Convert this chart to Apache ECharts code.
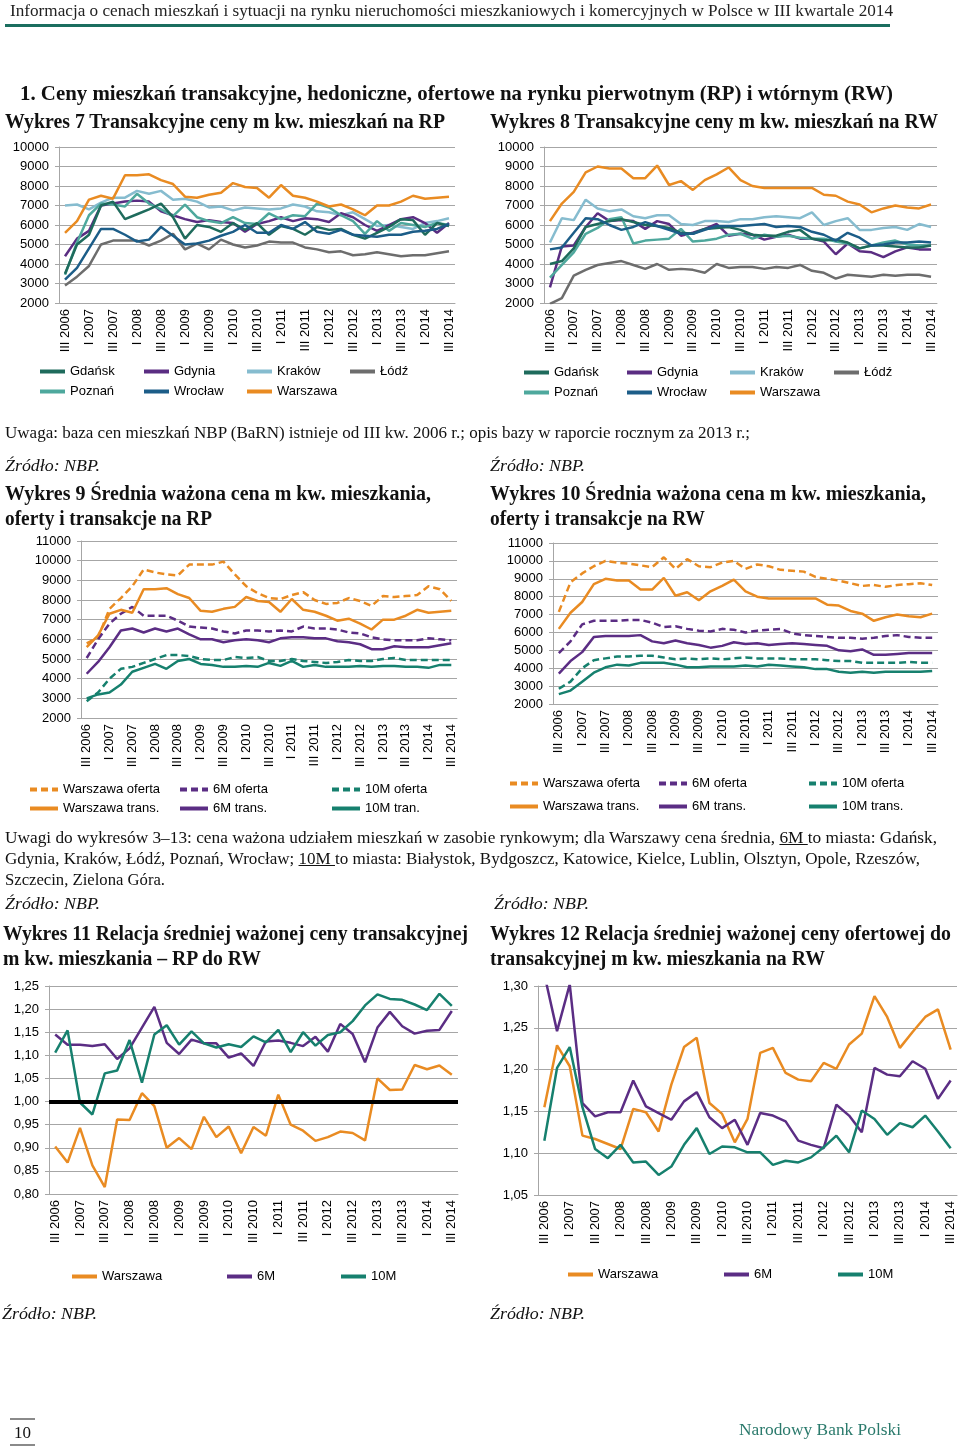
<!DOCTYPE html>
<html><head><meta charset="utf-8">
<script src="https://cdn.jsdelivr.net/npm/echarts@6.0.0/dist/echarts.min.js"></script>
<style>
html,body{margin:0;padding:0;background:#fff;}
#page{position:relative;width:960px;height:1446px;overflow:hidden;background:#fff;}
#chart{position:absolute;left:0;top:0;width:960px;height:1446px;}
.t{position:absolute;white-space:nowrap;font-family:"Liberation Serif","DejaVu Serif",serif;color:#111;transform-origin:0 50%;line-height:1;}
.rule{position:absolute;}
</style></head>
<body><div id="page"><div id="chart"></div></div>
<script>
// ---------- categories ----------
const quarters = ['III 2006','IV 2006','I 2007','II 2007','III 2007','IV 2007','I 2008','II 2008','III 2008','IV 2008',
 'I 2009','II 2009','III 2009','IV 2009','I 2010','II 2010','III 2010','IV 2010','I 2011','II 2011','III 2011','IV 2011',
 'I 2012','II 2012','III 2012','IV 2012','I 2013','II 2013','III 2013','IV 2013','I 2014','II 2014','III 2014'];

// ---------- Wykres 7: RP transaction prices ----------
const rp_gdansk  = [3500,5000,5500,7000,7200,6300,6550,6800,7100,6400,5300,6000,5900,5650,6100,5750,6100,5500,5950,5800,5500,5900,5750,5800,5500,5300,5600,5900,6300,6250,5500,6100,5950];
const rp_gdynia  = [4400,5300,5700,7000,7100,7200,7250,7200,6700,6500,6300,6150,6250,6150,6100,5650,6050,6200,6400,6200,6350,6300,6150,6600,6400,6000,5700,6000,6300,6400,6100,5600,6100];
const rp_krakow  = [7000,7050,6800,7150,7400,7400,7750,7600,7750,7300,7350,7200,6900,6950,6750,6900,6850,6800,6850,7050,6950,6700,6650,6500,6650,6300,5950,6000,5900,5800,6100,6200,6350];
const rp_lodz    = [2900,3350,3900,5000,5200,5200,5200,4950,5200,5550,4750,5050,4750,5250,5000,4850,4950,5150,5100,5100,4850,4750,4600,4650,4450,4500,4600,4500,4400,4450,4450,4550,4650];
const rp_poznan  = [3450,5100,6500,7100,7050,6950,7600,7100,6800,6450,7050,6400,6200,6100,6400,6100,6050,6600,6300,6500,6450,7100,6900,6500,6200,5550,6200,5700,6100,6000,5900,6100,6000];
const rp_wroclaw = [3200,3800,4800,5800,5800,5500,5150,5250,5900,5450,5000,5050,5200,5450,5650,6000,5600,5600,6000,5800,6150,5650,5550,5750,5500,5450,5400,5500,5500,5650,5700,5800,6050];
const rp_warszawa= [5600,6200,7300,7500,7350,8550,8550,8600,8300,8100,7450,7400,7550,7650,8150,7950,7900,7400,8050,7500,7400,7200,6950,7050,6800,6500,7000,7000,7200,7500,7350,7400,7450];

// ---------- Wykres 8: RW transaction prices ----------
const rw_gdansk  = [4000,4150,4800,5900,6050,6200,6300,6150,6000,5950,5850,5600,5550,5800,5850,5900,5750,5500,5450,5450,5650,5750,5300,5200,5250,5100,4800,4950,4950,4900,4850,4850,4950];
const rw_gdynia  = [2800,4900,4950,5900,6600,6200,6250,6200,5800,6200,6050,5450,5600,5800,6050,5450,5550,5500,5250,5400,5500,5300,5300,5150,4500,5050,4650,4600,4350,4650,4850,4750,4750];
const rw_krakow  = [5100,6350,6250,7300,6850,6700,6800,6450,6350,6500,6500,6050,6000,6200,6200,6150,6300,6300,6400,6450,6400,6350,6650,6000,6200,6350,5750,5750,5850,5900,5750,6050,5900];
const rw_lodz    = [1950,2250,3400,3700,3950,4050,4150,3950,3750,4000,3700,3750,3700,3550,4000,3800,3850,3850,3750,3850,3800,3950,3650,3550,3250,3450,3400,3350,3450,3400,3450,3450,3350];
const rw_poznan  = [3300,3950,4600,5550,5850,6300,6400,5050,5200,5250,5300,5800,5150,5200,5300,5500,5550,5300,5500,5400,5450,5350,5300,5300,5150,5050,4800,4950,5100,5200,5000,4950,4950];
const rw_wroclaw = [4750,4850,5600,6350,6300,6000,5750,5900,6150,5950,5750,5550,5550,5750,5950,5950,5950,6000,6050,5900,5950,5900,5650,5500,5200,5600,5350,4950,5000,5100,5100,5150,5100];
const rw_warszawa= [6200,7100,7700,8700,9000,8900,8900,8400,8400,9050,8050,8250,7800,8300,8600,8950,8300,8000,7900,7900,7900,7900,7900,7550,7500,7200,7050,6650,6850,7000,6900,6850,7050];

// ---------- Wykres 9: RP offer / transaction ----------
const rp_off_waw = [5800,6100,7550,8100,8700,9550,9400,9300,9250,9800,9800,9800,9950,9300,8700,8350,8100,8050,8250,8400,8000,7800,7850,8100,7950,7700,8200,8150,8200,8250,8700,8550,7950];
const rp_off_6m  = [5050,6000,6800,7300,7650,7200,7200,7200,6950,6650,6600,6550,6400,6300,6450,6450,6400,6450,6400,6650,6550,6550,6500,6350,6300,6100,6000,5950,5950,5950,6050,6000,5950];
const rp_off_10m = [2850,3300,4000,4500,4600,4800,5000,5200,5200,5150,5000,4950,4950,5100,5050,5100,4900,4900,5000,4900,4850,4800,4850,4950,4900,4900,5000,5050,4950,4950,4950,4950,4950];
const rp_tr_waw  = rp_warszawa;
const rp_tr_6m   = [4250,4850,5600,6450,6550,6350,6550,6400,6550,6250,6000,6000,5850,5950,6000,5950,5850,6050,6100,6100,6050,6050,5900,5850,5750,5500,5500,5650,5600,5600,5600,5700,5800];
const rp_tr_10m  = [3000,3200,3300,3700,4350,4550,4750,4500,4900,5000,4750,4700,4600,4600,4650,4600,4800,4650,4900,4600,4700,4600,4600,4600,4650,4600,4650,4650,4600,4600,4550,4700,4700];

// ---------- Wykres 10: RW offer / transaction ----------
const rw_off_waw = [7150,8800,9300,9700,10000,9900,9850,9750,9650,10200,9550,10100,9700,9650,9900,10000,9550,9800,9700,9500,9450,9400,9100,9000,8900,8750,8600,8650,8550,8650,8700,8750,8650];
const rw_off_6m  = [4850,5500,6450,6650,6650,6650,6700,6700,6550,6300,6350,6200,6100,6050,6200,6150,6000,6100,6150,6200,5950,5850,5800,5750,5700,5700,5650,5700,5800,5850,5750,5700,5700];
const rw_off_10m = [2850,3250,4000,4450,4550,4650,4650,4700,4700,4600,4500,4550,4500,4550,4500,4550,4600,4550,4550,4550,4500,4500,4500,4450,4400,4400,4300,4300,4300,4300,4350,4300,4300];
const rw_tr_waw  = rw_warszawa;
const rw_tr_6m   = [3700,4400,4900,5750,5800,5800,5800,5850,5500,5400,5550,5400,5300,5150,5250,5450,5350,5400,5300,5350,5400,5350,5300,5250,5000,4950,5050,4750,4750,4800,4850,4850,4850];
const rw_tr_10m  = [2550,2750,3250,3750,4050,4200,4150,4300,4300,4300,4200,4050,4050,4100,4100,4100,4150,4100,4200,4150,4100,4050,3950,3950,3800,3750,3800,3750,3800,3800,3800,3800,3850];

// ---------- Wykres 11: RP / RW ratio ----------
const rel_rp_waw = [0.903,0.868,0.943,0.862,0.815,0.961,0.960,1.018,0.990,0.900,0.921,0.897,0.967,0.923,0.946,0.888,0.945,0.926,1.015,0.950,0.937,0.915,0.923,0.935,0.932,0.916,1.050,1.025,1.026,1.079,1.070,1.078,1.058];
const rel_rp_6m  = [1.145,1.123,1.123,1.120,1.124,1.092,1.115,1.160,1.205,1.127,1.103,1.134,1.126,1.126,1.095,1.104,1.077,1.130,1.132,1.127,1.120,1.140,1.108,1.168,1.146,1.085,1.160,1.194,1.163,1.147,1.153,1.155,1.196];
const rel_rp_10m = [1.106,1.154,0.998,0.972,1.061,1.067,1.133,1.041,1.145,1.165,1.123,1.152,1.126,1.117,1.124,1.118,1.141,1.128,1.155,1.107,1.150,1.121,1.144,1.150,1.174,1.208,1.232,1.222,1.220,1.210,1.198,1.233,1.207];
const parityLevel = 1.0;

// ---------- Wykres 12: offer / transaction ratio RW ----------
const rel_rw_waw = [1.155,1.229,1.204,1.121,1.117,1.111,1.105,1.153,1.149,1.126,1.182,1.227,1.238,1.160,1.147,1.113,1.141,1.220,1.226,1.196,1.188,1.186,1.208,1.201,1.230,1.243,1.288,1.263,1.226,1.245,1.263,1.272,1.224];
const rel_rw_6m  = [1.314,1.246,1.302,1.160,1.144,1.149,1.149,1.187,1.156,1.148,1.140,1.162,1.173,1.143,1.130,1.140,1.110,1.148,1.145,1.138,1.115,1.110,1.106,1.158,1.145,1.125,1.202,1.194,1.192,1.210,1.201,1.165,1.187];
const rel_rw_10m = [1.115,1.202,1.227,1.155,1.105,1.094,1.110,1.089,1.090,1.074,1.084,1.110,1.130,1.099,1.108,1.107,1.101,1.101,1.086,1.091,1.089,1.095,1.107,1.121,1.101,1.151,1.141,1.122,1.136,1.131,1.145,1.126,1.106];

// ---------- styling ----------
const C = {gdansk:'#1e6b5c', gdynia:'#5a2d82', krakow:'#86bccf', lodz:'#6d6d6d', poznan:'#4ea89d',
           wroclaw:'#1c5d88', waw:'#e98b22', m6:'#5b2d84', m10:'#16806e'};
const GRAY = '#a6a6a6';
const SANS = '"Liberation Sans", Arial, sans-serif';
const DASH = [7,4];

const grids = [
  {left:59,  top:147, width:396, height:156},
  {left:544, top:147, width:393, height:156},
  {left:81,  top:541, width:376, height:177},
  {left:553, top:543, width:385, height:161},
  {left:49,  top:986, width:409, height:208},
  {left:538, top:986, width:419, height:209}
].map(g => Object.assign({outerBoundsMode:'none', containLabel:false}, g));

function xAx(gi){ return {type:'category', gridIndex:gi, data:quarters, boundaryGap:true,
  axisLine:{lineStyle:{color:GRAY}}, axisTick:{interval:0,length:4,lineStyle:{color:GRAY}},
  axisLabel:{interval:1, rotate:90, fontSize:13, color:'#000', fontFamily:SANS, margin:6}}; }
function yAx(gi,min,max,interval,fmt){ return {type:'value', gridIndex:gi, min, max, interval,
  axisLine:{show:true,lineStyle:{color:GRAY}}, axisTick:{show:true,length:4,lineStyle:{color:GRAY}},
  splitLine:{show:true,lineStyle:{color:GRAY,width:1}},
  axisLabel:{fontSize:13,color:'#000',fontFamily:SANS,margin:10, formatter:fmt}}; }
const comma = v => v.toFixed(2).replace('.', ',');
const plain = v => String(Math.round(v));

function ln(name, data, color, gi, dashed, extra){
  return Object.assign({type:'line', name, data, xAxisIndex:gi, yAxisIndex:gi, symbol:'none',
    color, lineStyle:{color, width:2.5, type: dashed ? DASH : 'solid'}, itemStyle:{color},
    emphasis:{disabled:true}, silent:true}, extra||{});
}
function lg(left, top, names, gap, w){
  return {left, top, orient:'vertical', itemGap:gap, itemWidth:w||25, itemHeight:14, padding:0,
    data:names, selectedMode:false, itemStyle:{opacity:0}, lineStyle:{width:4},
    textStyle:{fontSize:13,color:'#000',fontFamily:SANS}};
}

const series = [
  // chart 7
  ln('Łódź', rp_lodz, C.lodz, 0), ln('Kraków', rp_krakow, C.krakow, 0), ln('Gdynia', rp_gdynia, C.gdynia, 0),
  ln('Poznań', rp_poznan, C.poznan, 0), ln('Gdańsk', rp_gdansk, C.gdansk, 0), ln('Wrocław', rp_wroclaw, C.wroclaw, 0),
  ln('Warszawa', rp_warszawa, C.waw, 0),
  // chart 8
  ln('Łódź', rw_lodz, C.lodz, 1), ln('Kraków', rw_krakow, C.krakow, 1), ln('Gdynia', rw_gdynia, C.gdynia, 1),
  ln('Poznań', rw_poznan, C.poznan, 1), ln('Gdańsk', rw_gdansk, C.gdansk, 1), ln('Wrocław', rw_wroclaw, C.wroclaw, 1),
  ln('Warszawa', rw_warszawa, C.waw, 1),
  // chart 9
  ln('Warszawa oferta', rp_off_waw, C.waw, 2, true), ln('6M oferta', rp_off_6m, C.m6, 2, true), ln('10M oferta', rp_off_10m, C.m10, 2, true),
  ln('Warszawa trans.', rp_tr_waw, C.waw, 2), ln('6M trans.', rp_tr_6m, C.m6, 2), ln('10M tran.', rp_tr_10m, C.m10, 2),
  // chart 10
  ln('Warszawa oferta', rw_off_waw, C.waw, 3, true), ln('6M oferta', rw_off_6m, C.m6, 3, true), ln('10M oferta', rw_off_10m, C.m10, 3, true),
  ln('Warszawa trans.', rw_tr_waw, C.waw, 3), ln('6M trans.', rw_tr_6m, C.m6, 3), ln('10M trans.', rw_tr_10m, C.m10, 3),
  // chart 11
  ln('Warszawa', rel_rp_waw, C.waw, 4, false, {markLine:{silent:true, symbol:'none', animation:false, label:{show:false},
     lineStyle:{color:'#000', width:4, type:'solid'}, data:[{yAxis:parityLevel}]}}),
  ln('6M', rel_rp_6m, C.m6, 4), ln('10M', rel_rp_10m, C.m10, 4),
  // chart 12
  ln('Warszawa', rel_rw_waw, C.waw, 5), ln('6M', rel_rw_6m, C.m6, 5), ln('10M', rel_rw_10m, C.m10, 5)
];

const option = {
  animation:false,
  textStyle:{fontFamily:SANS},
  grid:grids,
  xAxis:[0,1,2,3,4,5].map(xAx),
  yAxis:[
    yAx(0,2000,10000,1000,plain), yAx(1,2000,10000,1000,plain),
    yAx(2,2000,11000,1000,plain), yAx(3,2000,11000,1000,plain),
    yAx(4,0.80,1.25,0.05,comma), yAx(5,1.05,1.30,0.05,comma)
  ],
  legend:[
    lg(38,365,['Gdańsk','Poznań'],7), lg(142,365,['Gdynia','Wrocław'],7), lg(245,365,['Kraków','Warszawa'],7), lg(348,365,['Łódź'],7),
    lg(522,366,['Gdańsk','Poznań'],7), lg(625,366,['Gdynia','Wrocław'],7), lg(728,366,['Kraków','Warszawa'],7), lg(832,366,['Łódź'],7),
    lg(28,783,['Warszawa oferta','Warszawa trans.'],6,28), lg(178,783,['6M oferta','6M trans.'],6,28), lg(330,783,['10M oferta','10M tran.'],6,28),
    lg(508,777,['Warszawa oferta','Warszawa trans.'],10,28), lg(657,777,['6M oferta','6M trans.'],10,28), lg(807,777,['10M oferta','10M trans.'],10,28),
    lg(70,1270,['Warszawa'],7), lg(225,1270,['6M'],7), lg(339,1270,['10M'],7),
    lg(566,1268,['Warszawa'],7), lg(722,1268,['6M'],7), lg(836,1268,['10M'],7)
  ],
  series
};
echarts.init(document.getElementById('chart'), null, {renderer:'canvas'}).setOption(option);

// ---------- page text ----------
const texts = [
 {x:10,y:11,w:883,fs:16,c:'#222',t:'Informacja o cenach mieszkań i sytuacji na rynku nieruchomości mieszkaniowych i komercyjnych w Polsce w III kwartale 2014'},
 {x:20,y:93,w:873,fs:21,b:1,t:'1. Ceny mieszkań transakcyjne, hedoniczne, ofertowe na rynku pierwotnym (RP) i wtórnym (RW)'},
 {x:5,y:121,w:440,fs:20,b:1,t:'Wykres 7 Transakcyjne ceny m kw. mieszkań na RP'},
 {x:490,y:121,w:448,fs:20,b:1,t:'Wykres 8 Transakcyjne ceny m kw. mieszkań na RW'},
 {x:5,y:433,w:745,fs:16,t:'Uwaga: baza cen mieszkań NBP (BaRN) istnieje od III kw. 2006 r.; opis bazy w raporcie rocznym za 2013 r.;'},
 {x:5,y:465,w:95,fs:17,i:1,t:'Źródło: NBP.'},
 {x:490,y:465,w:95,fs:17,i:1,t:'Źródło: NBP.'},
 {x:5,y:493,w:426,fs:20,b:1,t:'Wykres 9 Średnia ważona cena m kw. mieszkania,'},
 {x:5,y:518,w:207,fs:20,b:1,t:'oferty i transakcje na RP'},
 {x:490,y:493,w:436,fs:20,b:1,t:'Wykres 10 Średnia ważona cena m kw. mieszkania,'},
 {x:490,y:518,w:215,fs:20,b:1,t:'oferty i transakcje na RW'},
 {x:5,y:838,w:932,fs:16,h:'Uwagi do wykresów 3–13: cena ważona udziałem mieszkań w zasobie rynkowym; dla Warszawy cena średnia, <u>6M </u>to miasta: Gdańsk,'},
 {x:5,y:859,w:915,fs:16,h:'Gdynia, Kraków, Łódź, Poznań, Wrocław; <u>10M </u> to miasta: Białystok, Bydgoszcz, Katowice, Kielce, Lublin, Olsztyn, Opole, Rzeszów,'},
 {x:5,y:880,w:160,fs:16,t:'Szczecin, Zielona Góra.'},
 {x:5,y:903,w:95,fs:17,i:1,t:'Źródło: NBP.'},
 {x:494,y:903,w:95,fs:17,i:1,t:'Źródło: NBP.'},
 {x:3,y:933,w:465,fs:20,b:1,t:'Wykres 11 Relacja średniej ważonej ceny transakcyjnej'},
 {x:3,y:958,w:258,fs:20,b:1,t:'m kw. mieszkania – RP do RW'},
 {x:490,y:933,w:461,fs:20,b:1,t:'Wykres 12 Relacja średniej ważonej ceny ofertowej do'},
 {x:490,y:958,w:335,fs:20,b:1,t:'transakcyjnej m kw. mieszkania na RW'},
 {x:2,y:1313,w:95,fs:17,i:1,t:'Źródło: NBP.'},
 {x:490,y:1313,w:95,fs:17,i:1,t:'Źródło: NBP.'},
 {x:14,y:1433,w:17,fs:16,t:'10'},
 {x:739,y:1429,w:162,fs:17,c:'#2b7a6c',t:'Narodowy Bank Polski'}
];
const page = document.getElementById('page');
texts.forEach(d => {
  const el = document.createElement('div');
  el.className = 't';
  if (d.h) el.innerHTML = d.h; else el.textContent = d.t;
  el.style.left = d.x + 'px';
  el.style.top = (d.y - d.fs/2) + 'px';
  el.style.fontSize = d.fs + 'px';
  if (d.i) el.style.fontStyle = 'italic';
  if (d.b) el.style.fontWeight = 'bold';
  if (d.c) el.style.color = d.c;
  page.appendChild(el);
  const r = el.getBoundingClientRect().width;
  if (r > 0) el.style.transform = 'scaleX(' + (d.w / r) + ')';
});
[{x:5,y:24,w:885,h:3,c:'#1b6e5f'},{x:10,y:1418,w:25,h:2,c:'#8a8a8a'},{x:10,y:1444,w:25,h:2,c:'#8a8a8a'}].forEach(d => {
  const el = document.createElement('div');
  el.className = 'rule';
  Object.assign(el.style, {left:d.x+'px', top:d.y+'px', width:d.w+'px', height:d.h+'px', background:d.c});
  page.appendChild(el);
});
</script>
</body></html>
